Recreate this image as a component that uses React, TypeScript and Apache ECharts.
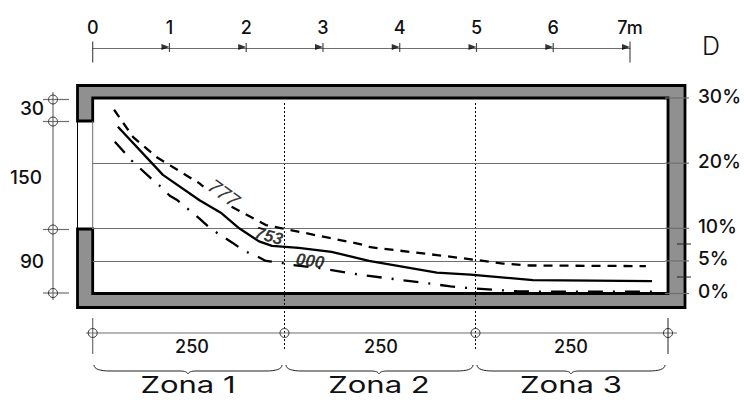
import React, { useEffect, useRef } from "react";
import * as echarts from "echarts";

// Data
const rulerTicks = [0, 1, 2, 3, 4, 5, 6, 7];
const percentTicks = [0, 5, 10, 20, 30];
const percentLines = [5, 10, 20];
const solidCurve = [[0.33,25.6],[0.92,18.2],[1.40,14.3],[1.69,12.3],[1.92,10.0],[2.18,8.0],[2.35,7.3],[2.70,7.0],[3.13,6.4],[3.62,5.0],[4.51,3.2],[4.95,2.9],[5.77,2.05],[7.33,1.9]];
const dashedCurve = [[0.28,28.2],[0.53,24.0],[0.84,20.9],[1.40,16.9],[1.45,16.4],[1.62,null],[1.82,13.3],[2.27,10.5],[2.48,10.0],[3.58,7.4],[3.64,7.1],[4.51,5.9],[4.99,5.2],[5.38,4.6],[5.73,4.3],[7.25,4.2]];
const dashDotCurve = [[0.29,23.3],[0.42,21.6],[0.51,20.4],[0.77,17.6],[0.89,16.4],[1.01,15.0],[1.10,14.4],[1.40,11.5],[1.55,9.9],[1.83,7.8],[1.99,6.5],[2.12,5.9],[2.27,5.0],[2.47,4.7],[2.61,4.4],[2.97,3.9],[3.49,2.9],[4.16,1.9],[4.69,1.1],[4.95,0.8],[5.56,0.35],[5.73,0.3],[7.33,0.3]];
const isoNames = ["777", "753", "000"];
const isoPoints = [[1.72, 15.4], [2.31, 8.8], [2.85, 5.0]];
const zones = ["Zona 1", "Zona 2", "Zona 3"];
const widths = ["250", "250", "250"];
const heights = ["30", "150", "90"];

const isoStyles = [
  { rotate: -36, fontWeight: "normal", fontSize: 20 },
  { rotate: -15, fontWeight: "bold", fontSize: 17 },
  { rotate: -8, fontWeight: "bold", fontSize: 17 },
];
const FONT = "Inter";
const GRAY = "#6e6e6e";
const brace = (x0: number, m: number, x1: number) =>
  `M${x0} 365C${x0} 369 ${x0 + 6} 371 ${x0 + 16} 371L${m - 8} 371C${m - 3} 371 ${m - 1} 372 ${m} 374C${m + 1} 372 ${m + 3} 371 ${m + 8} 371L${x1 - 16} 371C${x1 - 6} 371 ${x1} 369 ${x1} 365`;
const braces = [[94, 188, 282], [286, 379, 473], [477, 571, 665]];
braces.forEach((b, i) =>
  echarts.graphic.registerShape("brace" + i, echarts.graphic.extendPath(brace(b[0], b[1], b[2]), {}))
);

const line = (x1: number, y1: number, x2: number, y2: number, stroke = GRAY, lineWidth = 1.2, extra: any = {}) => ({
  type: "line", silent: true, shape: { x1, y1, x2, y2 }, style: { stroke, lineWidth, ...extra },
});
const mark = (cx: number, cy: number) => ({
  type: "circle", silent: true, shape: { cx, cy, r: 4.5 }, style: { fill: "none", stroke: "#333", lineWidth: 1 },
});
const text = (t: string, x: number, y: number, size: number, align = "center", extra: any = {}, props: any = {}) => ({
  type: "text", silent: true, x, y, ...props,
  style: { text: t, fontFamily: FONT, fontSize: size, fontWeight: 500, fill: "#111", align, verticalAlign: "middle", ...extra },
});

const wall = [[77.5, 121], [77.5, 85.5], [685, 85.5], [685, 307.5], [77.5, 307.5], [77.5, 229], [92.7, 229], [92.7, 293.5], [668, 293.5], [668, 98], [92.7, 98], [92.7, 121]];

const graphicElements: any[] = [
  { type: "polygon", silent: true, shape: { points: wall }, style: { fill: "#909090", stroke: "#000", lineWidth: 2.8 } },
  line(77.5, 121, 77.5, 229, "#000", 1),
  line(92.7, 121, 92.7, 229, GRAY, 1),
  // Zone separators
  line(284.5, 103, 284.5, 351, "#000", 1, { lineDash: [2, 2] }),
  line(475.5, 103, 475.5, 351, "#000", 1, { lineDash: [2, 2] }),
  // Minor marks on the right wall
  line(677, 244, 691, 244, "#222", 1),
  line(677, 277, 691, 277, "#222", 1),
  // Left dimension
  line(53, 92, 53, 300),
  ...[99.5, 121.5, 229.5, 293].flatMap((y) => [line(43, y, 69, y), mark(53, y)]),
  text(heights[0], 32, 108, 19),
  text(heights[1], 26, 177, 19),
  text(heights[2], 32, 261, 19),
  // Bottom dimension
  line(86, 333, 677, 333),
  line(92.7, 318, 92.7, 354),
  line(668, 318, 668, 354, "#222", 1),
  ...[92.7, 284.5, 475.5, 668].map((x) => mark(x, 333)),
  text(widths[0], 192, 346, 18),
  text(widths[1], 381, 346, 18),
  text(widths[2], 571, 346, 18),
  ...braces.map((_, i) => ({ type: "brace" + i, silent: true, style: { fill: "none", stroke: "#222", lineWidth: 1 } })),
  text(zones[0], 188, 385.5, 23, "center", { fontWeight: 400 }, { scaleX: 1.35 }),
  text(zones[1], 379, 385.5, 23, "center", { fontWeight: 400 }, { scaleX: 1.35 }),
  text(zones[2], 571, 385.5, 23, "center", { fontWeight: 400 }, { scaleX: 1.35 }),
  text("D", 702, 46, 25, "left", { fontWeight: 300 }),
];

export default function App() {
  const ref = useRef<HTMLDivElement>(null);
  useEffect(() => {
    document.body.style.margin = "0";
    const chart = echarts.init(ref.current!, undefined, { renderer: "svg" });
    chart.setOption({
      animation: false,
      backgroundColor: "#fff",
      grid: [
        { left: 92.7, right: 76, top: 98, bottom: 106.5 },
        { left: 92.7, width: 537.3, top: 47, height: 1 },
      ],
      xAxis: [
        { type: "value", min: 0, max: 7.5, show: false },
        {
          type: "value", gridIndex: 1, position: "top", min: 0, max: 7, interval: 1,
          axisLine: { show: true, lineStyle: { color: GRAY, width: 1.2 } },
          axisTick: { show: false },
          splitLine: { show: false },
          axisLabel: {
            margin: 11, color: "#111", fontFamily: FONT, fontSize: 18, fontWeight: 500,
            formatter: (v: number) => (v === 7 ? "7m" : String(v)),
          },
        },
      ],
      yAxis: [
        {
          type: "value", position: "right", min: 0, max: 30, z: 3,
          axisLine: { show: false },
          axisTick: { show: false },
          axisLabel: {
            customValues: percentTicks, margin: 33, color: "#111", fontFamily: FONT, fontSize: 19, fontWeight: 500,
            verticalAlign: "bottom", lineHeight: 4, formatter: (v: number) => v + "%",
          },
          splitLine: { show: false },
        },
        { type: "value", gridIndex: 1, min: 0, max: 1, show: false },
        {
          type: "value", position: "left", min: 0, max: 30, z: 3,
          axisLine: { show: false },
          axisTick: { show: false, customValues: percentLines },
          axisLabel: { show: false },
          splitLine: { show: true, lineStyle: { color: GRAY, width: 1.2 } },
        },
      ],
      graphic: { elements: graphicElements },
      series: [
        {
          type: "custom", z: 4, silent: true,
          data: percentTicks.map((v) => [7.5, v]),
          renderItem: (_: any, api: any) => {
            const p = api.coord([api.value(0), api.value(1)]);
            return {
              type: "line",
              shape: { x1: p[0], y1: p[1], x2: p[0] + 24, y2: p[1] },
              style: { stroke: GRAY, lineWidth: 1.2 },
            };
          },
        },
        { type: "line", z: 10, data: solidCurve, symbol: "none", lineStyle: { color: "#000", width: 2.3 } },
        { type: "line", z: 10, data: dashedCurve, symbol: "none", lineStyle: { color: "#000", width: 2.3, type: [9, 7] } },
        { type: "line", z: 10, data: dashDotCurve, symbol: "none", lineStyle: { color: "#000", width: 2.3, type: [15, 10, 2, 10] } },
        {
          type: "scatter", z: 11, symbolSize: 0,
          data: isoNames.map((name, i) => ({
            value: isoPoints[i],
            label: {
              show: true, position: "inside", formatter: name,
              fontFamily: "Liberation Sans", fontStyle: "italic", color: "#000", ...isoStyles[i],
            },
          })),
        },
        {
          type: "scatter", xAxisIndex: 1, yAxisIndex: 1, z: 11, symbol: "path://M0 0L8 3L0 6Z", symbolSize: [8, 6], symbolOffset: [-4, 0],
          itemStyle: { color: "#000" },
          data: rulerTicks.slice(1).map((v) => [v, 1]),
        },
        {
          type: "scatter", xAxisIndex: 1, yAxisIndex: 1, z: 11, symbol: "rect",
          itemStyle: { color: "#222" },
          data: rulerTicks.map((v) => ({
            value: [v, 1],
            symbolSize: v === 0 || v === 7 ? [1.2, 21] : [1.2, 9],
            symbolOffset: v === 0 || v === 7 ? [0, 5] : [0, 0.5],
          })),
        },
      ],
    });
    return () => chart.dispose();
  }, []);
  return <div ref={ref} style={{ width: 744, height: 400 }} />;
}
